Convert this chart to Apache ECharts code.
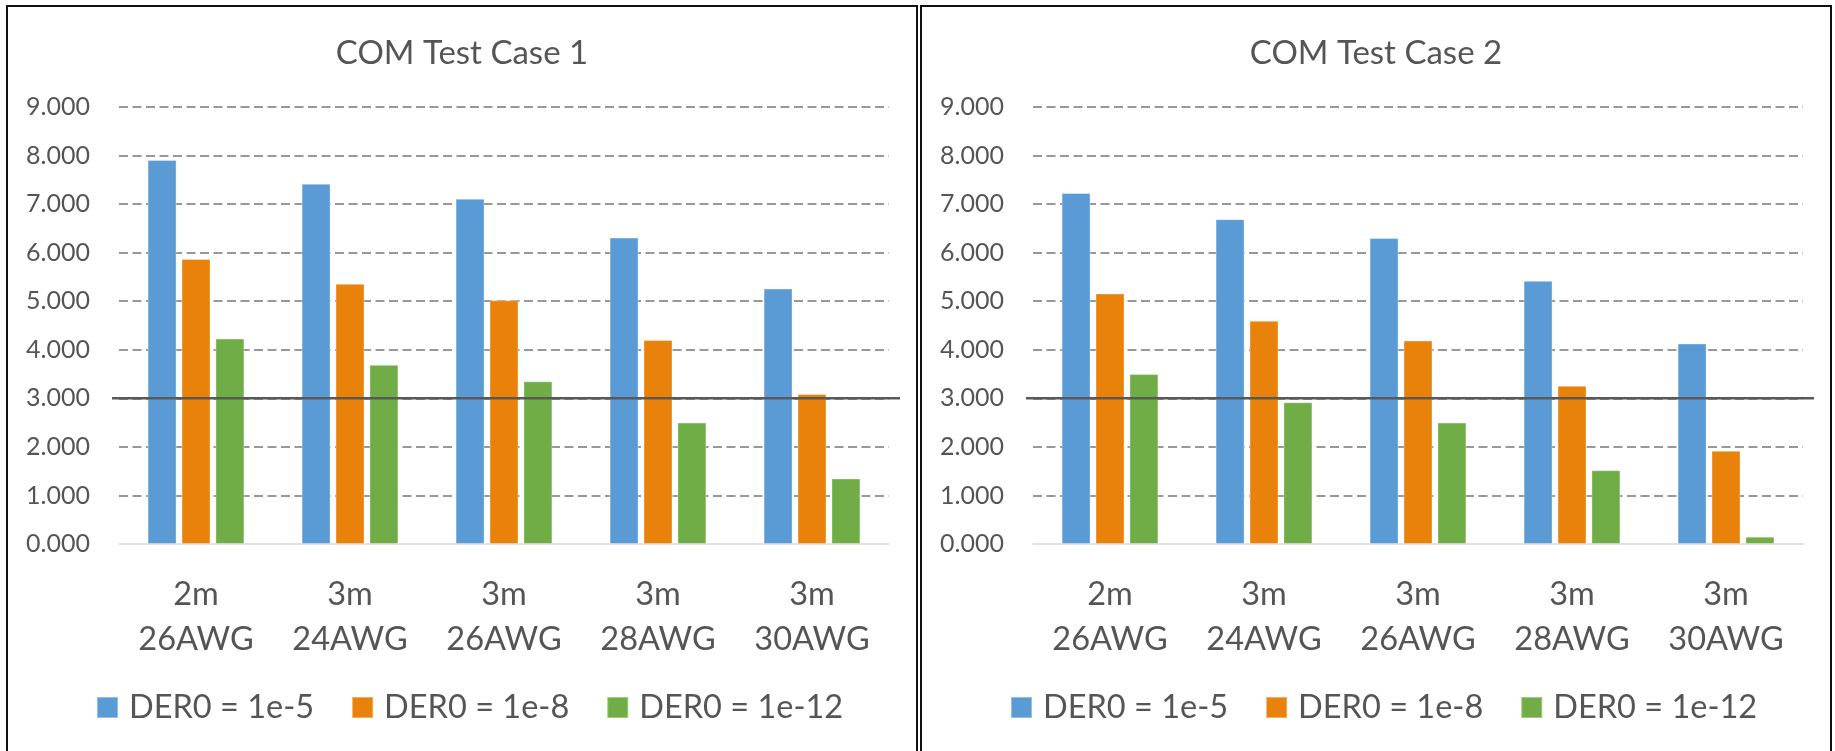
<!DOCTYPE html>
<html>
<head>
<meta charset="utf-8">
<script src="https://cdn.jsdelivr.net/npm/echarts@6/dist/echarts.min.js"></script>
<style>
  html, body { margin: 0; padding: 0; background: #fff; overflow: hidden; }
  body { width: 1835px; height: 751px; position: relative; }
  .panel {
    position: absolute; top: 5px; width: 912px; height: 780px;
    box-sizing: border-box; border: 2px solid #111; background: #fff;
  }
  #p1 { left: 6px; }
  #p2 { left: 920px; }
  .chart { width: 908px; height: 776px; }
</style>
</head>
<body>
<div class="panel" id="p1"><div class="chart" id="c1"></div></div>
<div class="panel" id="p2"><div class="chart" id="c2"></div></div>
<script>
// Cable configurations (two-line axis labels)
const lengths = ['2m', '3m', '3m', '3m', '3m'];
const gauges = ['26AWG', '24AWG', '26AWG', '28AWG', '30AWG'];
const categories = lengths.map((l, i) => l + '\n' + gauges[i]);

// Legend / series names
const seriesNames = ['DER0 = 1e-5', 'DER0 = 1e-8', 'DER0 = 1e-12'];

// COM results, test case 1
const case1_der5 = [7.91, 7.42, 7.11, 6.31, 5.26];
const case1_der8 = [5.87, 5.36, 5.02, 4.20, 3.09];
const case1_der12 = [4.23, 3.69, 3.35, 2.50, 1.35];

// COM results, test case 2
const case2_der5 = [7.23, 6.69, 6.30, 5.42, 4.13];
const case2_der8 = [5.16, 4.60, 4.19, 3.26, 1.92];
const case2_der12 = [3.50, 2.92, 2.50, 1.52, 0.15];

// Pass threshold and value-axis ticks
const threshold = 3;
const yMin = 0, yMax = 9, yStep = 1;

const colors = ['#5B9BD5', '#E9820A', '#70AD47'];
const textColor = '#555555';
const font = 'Lato, "Open Sans", sans-serif';

function buildOption(title, seriesData) {
  const gridTop = 100, gridHeight = 437;
  // first split line (value 0) sits under the axis line, so it is hidden
  const splitColors = [];
  for (let v = yMin; v <= yMax; v += yStep) splitColors.push(v === yMin ? 'rgba(0,0,0,0)' : '#777777');

  return {
    animation: false,
    color: colors,
    title: {
      text: title,
      left: 'center',
      top: 25,
      textStyle: { fontFamily: font, fontSize: 33, fontWeight: 'normal', color: textColor }
    },
    legend: {
      data: seriesNames,
      left: 88,
      top: 684,
      padding: 0,
      icon: 'rect',
      itemWidth: 21,
      itemHeight: 21,
      itemGap: 37,
      selectedMode: false,
      textStyle: { fontFamily: font, fontSize: 32.5, color: textColor, padding: [0, 0, 0, 6] }
    },
    grid: [
      { left: 111, width: 770, top: gridTop, height: gridHeight },
      { left: 104, width: 788, top: gridTop, height: gridHeight }
    ],
    xAxis: [
      {
        type: 'category',
        gridIndex: 0,
        data: categories,
        axisTick: { show: false },
        axisLine: { lineStyle: { color: '#d9d9d9', width: 1.5 } },
        axisLabel: {
          fontFamily: font, fontSize: 32.5, color: textColor,
          lineHeight: 45, margin: 28, interval: 0
        }
      },
      { type: 'value', gridIndex: 1, min: 0, max: 1, show: false }
    ],
    yAxis: [
      {
        type: 'value',
        gridIndex: 0,
        min: yMin, max: yMax, interval: yStep,
        axisLine: { show: false },
        axisTick: { show: false },
        axisLabel: {
          fontFamily: font, fontSize: 25, color: textColor, margin: 29,
          formatter: v => v.toFixed(3)
        },
        splitLine: { lineStyle: { color: splitColors, width: 1.5, type: [9, 4.5] } }
      },
      { type: 'value', gridIndex: 1, min: yMin, max: yMax, show: false }
    ],
    series: seriesData.map((d, i) => ({
      name: seriesNames[i],
      type: 'bar',
      xAxisIndex: 0,
      yAxisIndex: 0,
      data: d,
      barWidth: 29,
      barGap: '17%',
      itemStyle: { borderColor: 'rgba(255,255,255,0.35)', borderWidth: 1 }
    })).concat([{
      name: 'threshold',
      type: 'line',
      xAxisIndex: 1,
      yAxisIndex: 1,
      data: [[0, threshold], [1, threshold]],
      symbol: 'none',
      silent: true,
      z: 5,
      lineStyle: { color: '#595959', width: 2.5 }
    }])
  };
}

const chart1 = echarts.init(document.getElementById('c1'), null, { renderer: 'canvas' });
chart1.setOption(buildOption('COM Test Case 1', [case1_der5, case1_der8, case1_der12]));

const chart2 = echarts.init(document.getElementById('c2'), null, { renderer: 'canvas' });
chart2.setOption(buildOption('COM Test Case 2', [case2_der5, case2_der8, case2_der12]));
</script>
</body>
</html>
